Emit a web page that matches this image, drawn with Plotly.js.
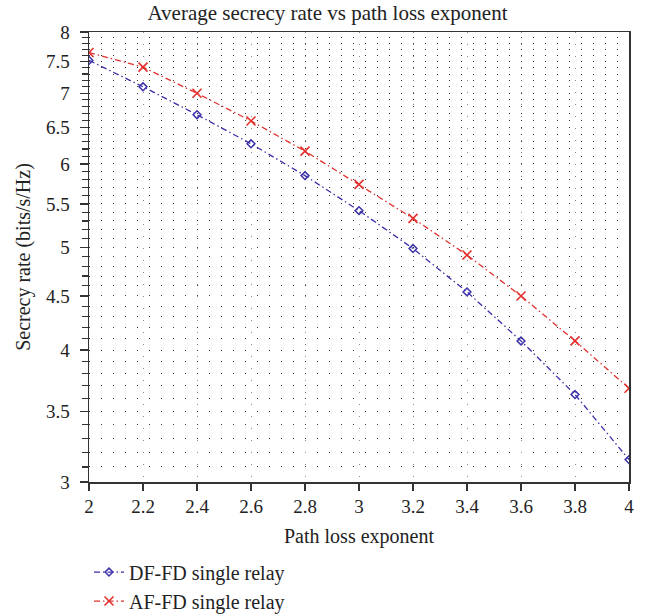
<!DOCTYPE html>
<html>
<head>
<meta charset="utf-8">
<script src="https://cdn.plot.ly/plotly-3.0.1.min.js"></script>
<style>html,body{margin:0;padding:0;background:#fff;}#chart{width:655px;height:616px;}</style>
</head>
<body>
<div id="chart"></div>
<script>
const pathLoss = [2.0, 2.2, 2.4, 2.6, 2.8, 3.0, 3.2, 3.4, 3.6, 3.8, 4.0];
const dfFd = [7.52, 7.10, 6.68, 6.27, 5.85, 5.42, 4.99, 4.54, 4.08, 3.63, 3.15];
const afFd = [7.65, 7.41, 7.00, 6.59, 6.17, 5.74, 5.33, 4.92, 4.50, 4.08, 3.68];
const xTicks = [2, 2.2, 2.4, 2.6, 2.8, 3, 3.2, 3.4, 3.6, 3.8, 4];
const xTickText = ['2', '2.2', '2.4', '2.6', '2.8', '3', '3.2', '3.4', '3.6', '3.8', '4'];
const yTicks = [3, 3.5, 4, 4.5, 5, 5.5, 6, 6.5, 7, 7.5, 8];
const yTickText = ['3', '3.5', '4', '4.5', '5', '5.5', '6', '6.5', '7', '7.5', '8'];
const yMinor = [];
for (let i = 30; i <= 80; i++) { if (i % 5 !== 0) yMinor.push(i / 10); }

const font = 'Liberation Serif, Times New Roman, serif';

const traces = [
  {
    x: pathLoss, y: dfFd, name: 'DF-FD single relay', type: 'scatter', mode: 'lines+markers',
    line: {color: '#3a30a8', width: 1.3, dash: '6px,3px,1.5px,3px'},
    marker: {symbol: 'diamond-open', size: 6, color: '#3a30a8', line: {width: 1.5, color: '#3a30a8'}}
  },
  {
    x: pathLoss, y: afFd, name: 'AF-FD single relay', type: 'scatter', mode: 'lines+markers',
    line: {color: '#e2312e', width: 1.3, dash: '6px,3px,1.5px,3px'},
    marker: {symbol: 'x-thin-open', size: 9, color: '#e2312e', line: {width: 1.6, color: '#e2312e'}}
  }
];

const layout = {
  width: 655, height: 616,
  margin: {l: 89, r: 26, t: 32, b: 134},
  paper_bgcolor: '#fff', plot_bgcolor: '#fff',
  font: {family: font, size: 18, color: '#222'},
  title: {text: 'Average secrecy rate vs path loss exponent', font: {family: font, size: 21, color: '#222'}, x: 0.5, xanchor: 'center', y: 0.992, yanchor: 'top'},
  showlegend: true,
  legend: {xref: 'paper', yref: 'container', x: 0, y: 0.103, xanchor: 'left', yanchor: 'top', font: {family: font, size: 20, color: '#222'}, bgcolor: 'rgba(0,0,0,0)', tracegroupgap: 0},
  xaxis: {
    range: [2, 4], tickmode: 'array', tickvals: xTicks, ticktext: xTickText,
    showline: true, linecolor: '#333', linewidth: 1.5, mirror: true,
    ticks: 'outside', ticklen: 7, tickwidth: 1.3, tickcolor: '#333',
    showgrid: true, gridcolor: '#888', gridwidth: 1, griddash: '1px,11px',
    zeroline: false,
    tickfont: {family: font, size: 19, color: '#222'},
    title: {text: 'Path loss exponent', font: {family: font, size: 20, color: '#222'}, standoff: 12}
  },
  yaxis: {
    type: 'log', range: [Math.log10(3), Math.log10(8)],
    tickmode: 'array', tickvals: yTicks, ticktext: yTickText,
    showline: true, linecolor: '#333', linewidth: 1.5, mirror: true,
    ticks: 'outside', ticklen: 8, tickwidth: 1.3, tickcolor: '#333',
    showgrid: true, gridcolor: '#333', gridwidth: 1, griddash: '1px,11px',
    zeroline: false,
    ticklabelstandoff: 6,
    minor: {tickmode: 'array', tickvals: yMinor, ticks: 'outside', ticklen: 6, tickwidth: 1.2, tickcolor: '#333', showgrid: true, gridcolor: '#333', gridwidth: 1, griddash: '1px,11px'},
    tickfont: {family: font, size: 19, color: '#222'},
    title: {text: 'Secrecy rate (bits/s/Hz)', font: {family: font, size: 20, color: '#222'}, standoff: 10}
  }
};

Plotly.newPlot('chart', traces, layout, {displayModeBar: false, staticPlot: true});
</script>
</body>
</html>
